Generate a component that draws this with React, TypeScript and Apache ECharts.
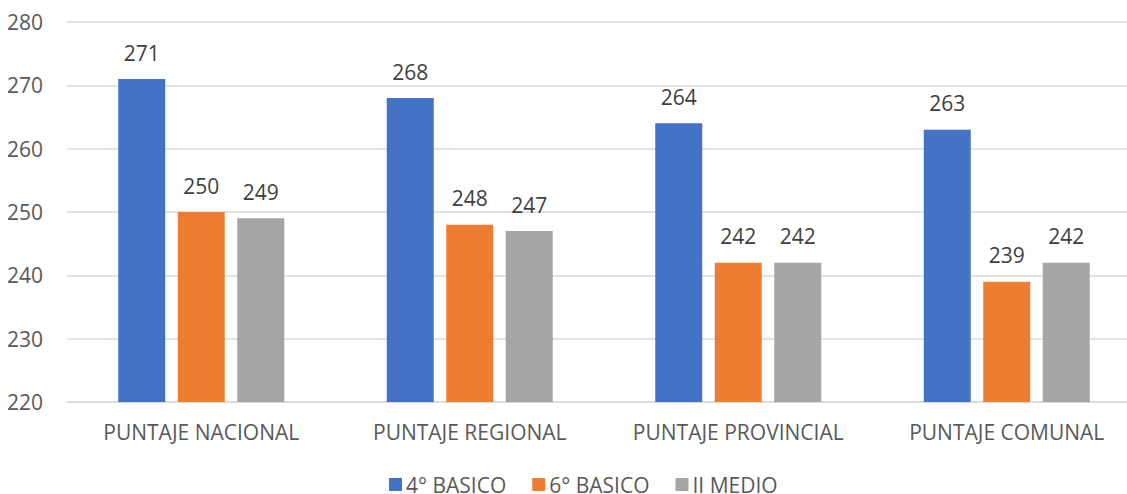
import React, { useEffect, useRef } from "react";
import * as echarts from "echarts";

const categories = ["PUNTAJE NACIONAL", "PUNTAJE REGIONAL", "PUNTAJE PROVINCIAL", "PUNTAJE COMUNAL"];
const basico4 = [271, 268, 264, 263];
const basico6 = [250, 248, 242, 239];
const medio2 = [249, 247, 242, 242];
const seriesNames = ["4° BASICO", "6° BASICO", "II MEDIO"];
const colors = ["#4472C4", "#ED7D31", "#A5A5A5"];

const FONT = "Open Sans";

export default function App() {
  const ref = useRef<HTMLDivElement>(null);
  useEffect(() => {
    if (!ref.current) return;
    const chart = echarts.init(ref.current, null, { renderer: "svg" });
    const mk = (name: string, data: number[], color: string) => ({
      name,
      type: "bar",
      data,
      barWidth: 47,
      barGap: "26.6%",
      itemStyle: { color },
      label: {
        show: true,
        position: "top",
        distance: 16,
        color: "#404040",
        fontFamily: FONT,
        fontSize: 21,
      },
    });
    chart.setOption({
      animation: false,
      backgroundColor: "#ffffff",
      grid: { left: 67, right: 0, top: 22, bottom: 92, containLabel: false },
      legend: {
        left: 389,
        top: 474,
        padding: 0,
        itemWidth: 13,
        itemHeight: 13,
        itemGap: 26,
        icon: "rect",
        textStyle: {
          color: "#595959",
          fontFamily: FONT,
          fontSize: 21,
          lineHeight: 18,
          padding: [0, 0, 0, -1],
        },
        data: seriesNames,
      },
      xAxis: {
        type: "category",
        data: categories,
        axisLine: { show: true, lineStyle: { color: "#D9D9D9", width: 1.5 } },
        axisTick: { show: false },
        axisLabel: { color: "#595959", fontFamily: FONT, fontSize: 21, margin: 19, interval: 0 },
      },
      yAxis: {
        type: "value",
        min: 220,
        max: 280,
        interval: 10,
        axisLine: { show: false },
        axisTick: { show: false },
        splitLine: { lineStyle: { color: "#D9D9D9", width: 1.5 } },
        axisLabel: { color: "#595959", fontFamily: FONT, fontSize: 21, margin: 24 },
      },
      series: [
        mk(seriesNames[0], basico4, colors[0]),
        mk(seriesNames[1], basico6, colors[1]),
        mk(seriesNames[2], medio2, colors[2]),
      ],
    });
    return () => chart.dispose();
  }, []);
  return (
    <div
      ref={ref}
      style={{ position: "fixed", left: 0, top: 0, width: 1141, height: 494, background: "#fff" }}
    />
  );
}
